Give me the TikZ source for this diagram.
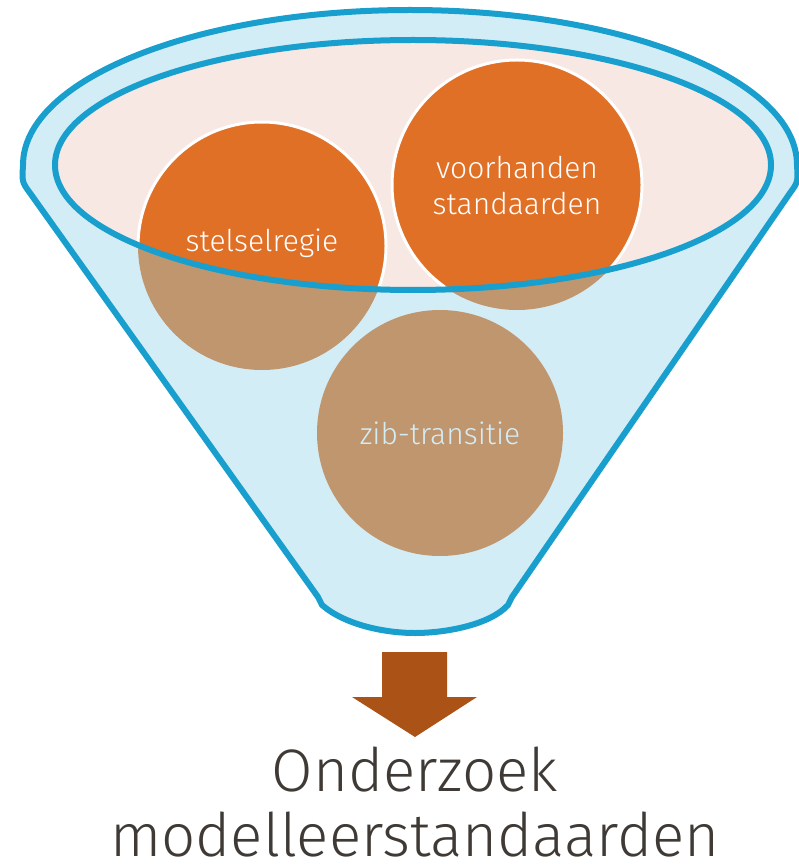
\documentclass[tikz,border=0pt]{standalone}
\usepackage{fontspec}
\setmainfont{Fira Sans}[UprightFont=* Light]
\definecolor{funnelblue}{HTML}{189FCE}
\definecolor{funnelfill}{HTML}{D3EDF7}
\definecolor{rimfill}{HTML}{F7E8E4}
\definecolor{ballorange}{HTML}{E07026}
\definecolor{balltan}{HTML}{C0966F}
\definecolor{arrowbrown}{HTML}{AB5216}
\definecolor{titlegray}{HTML}{3F3A35}
\tikzset{
  funnelline/.style={draw=funnelblue, line width=6pt, line join=round},
  balltext/.style={text=white, font=\fontsize{30}{36}\selectfont, align=center},
  titletext/.style={text=titlegray, font=\fontsize{60}{65}\selectfont, align=center, inner sep=0pt, text depth=0pt},
}
\begin{document}
\begin{tikzpicture}[x=1pt,y=-1pt]
\useasboundingbox (0,0) rectangle (798,866);
% funnel body
\path[funnelline, fill=funnelfill]
  (30,193) .. controls (22,182) .. (23,165)
  arc[start angle=180, end angle=360, x radius=387, y radius=155]
  .. controls (798,182) .. (790,193)
  -- (512,597) -- (508,605)
  .. controls (490,625) and (445,633) .. (415,633)
  .. controls (385,633) and (345,625) .. (322,605)
  -- (318,597) -- cycle;
% rim interior
\fill[rimfill] (413,165) ellipse [x radius=358, y radius=125];
% balls, tan part
\fill[balltan] (262,246) circle [radius=124];
\fill[balltan] (517,185) circle [radius=125];
\fill[balltan] (440,433) circle [radius=123];
% balls, orange part inside the rim
\begin{scope}
  \clip (413,165) ellipse [x radius=358, y radius=125];
  \fill[ballorange, draw=white, line width=3pt] (262,246) circle [radius=124];
  \fill[ballorange, draw=white, line width=3pt] (517,185) circle [radius=125];
\end{scope}
% rim line
\draw[funnelline] (413,165) ellipse [x radius=358, y radius=125];
% labels
\node[balltext] (b1) at (262,243) {stelselregie};
\node[balltext] (b2) at (517,186) {voorhanden\\standaarden};
\node[balltext, text=funnelfill] (b3) at (440,433) {zib-transitie};
% arrow
\fill[arrowbrown] (382,652) -- (447,652) -- (447,697) -- (477,697) -- (415,737)
  -- (352,697) -- (382,697) -- cycle;
% title
\node[titletext, anchor=base] (t) at (415,856) {Onderzoek\\modelleerstandaarden};
\end{tikzpicture}
\end{document}
